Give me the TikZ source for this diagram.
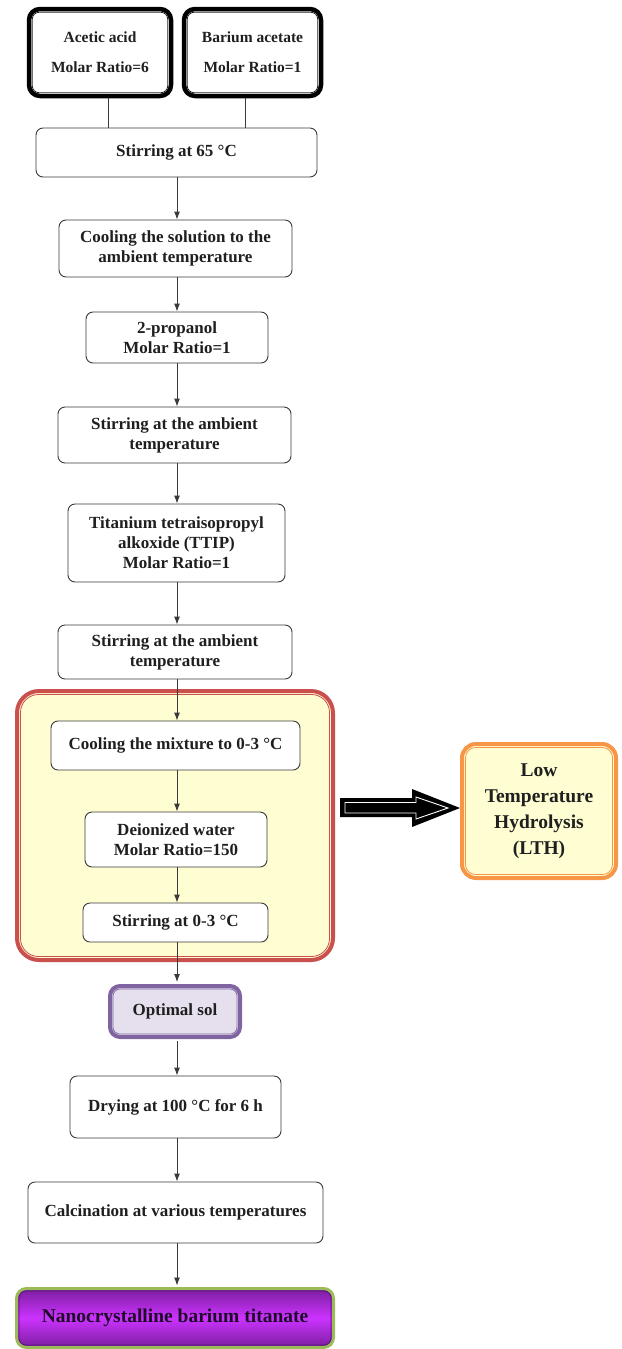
\documentclass[tikz,border=0pt]{standalone}
\usepackage{fontspec}
\setmainfont{Liberation Serif}
\usetikzlibrary{arrows.meta,calc}
\definecolor{linegray}{HTML}{3A3A3A}
\definecolor{zonefill}{HTML}{FFFDD2}
\definecolor{zonered}{HTML}{C9504D}
\definecolor{lthorange}{HTML}{F79646}
\definecolor{optpurple}{HTML}{8064A2}
\definecolor{optfill}{HTML}{E6E0EE}
\definecolor{nanogreen}{HTML}{9BBB59}
\definecolor{nanodark}{HTML}{7A1E9E}
\definecolor{nanolight}{HTML}{CC33FF}
\definecolor{nanotext}{HTML}{1E0A28}
\begin{document}
\begin{tikzpicture}[x=1pt,y=-1pt,
  txt/.style={font=\bfseries\fontsize{17}{20}\selectfont, text=black!88, align=center},
  box/.style={txt, draw=linegray, line width=0.9pt, rounded corners=7pt, fill=white, inner sep=0pt},
  sz/.style 2 args={minimum width=#1pt, minimum height=#2pt},
  arr/.style={draw=linegray, line width=0.9pt, -{Latex[length=8pt,width=6pt]}},
  plain/.style={draw=linegray, line width=0.9pt},
  inbox/.style={box, draw=black, line width=4.5pt, rounded corners=11pt, font=\bfseries\fontsize{15.5}{30}\selectfont},
  inline/.style={draw=black!85, line width=0.8pt, rounded corners=7pt}
]
\useasboundingbox (0,0) rectangle (621,1349);
\coordinate (axis) at (177,0);

% starting materials
\node[inbox, sz={142}{87}] (ac) at (100,52.5) {Acetic acid\\Molar Ratio=6};
\node[inbox, sz={137}{87}] (ba) at (252.5,52.5) {Barium acetate\\Molar Ratio=1};
\foreach \n in {ac,ba}{
  \draw[inline] ([xshift=5.5pt,yshift=-5.5pt]\n.north west) rectangle ([xshift=-5.5pt,yshift=5.5pt]\n.south east);
}

\node[box, sz={281}{49}] (s65) at (176.5,152.5) {Stirring at 65 °C};
\node[box, sz={233}{57}] (cool1) at (175.5,248.5) {Cooling the solution to the\\ambient temperature};
\node[box, sz={182}{51}] (prop) at (177,337.5) {2-propanol\\Molar Ratio=1};
\node[box, sz={233}{56}] (stirA) at (174.5,435) {Stirring at the ambient\\temperature};
\node[box, sz={217}{78}] (ttip) at (176.5,543) {Titanium tetraisopropyl\\alkoxide (TTIP)\\Molar Ratio=1};
\node[box, sz={234}{54}] (stirB) at (175,652) {Stirring at the ambient\\temperature};

% LTH zone
\node[draw=zonered, fill=zonefill, line width=4pt, rounded corners=22pt, sz={316}{269}] (zone) at (175,825.5) {};
\draw[draw=zonered, line width=0.8pt, rounded corners=18pt] ([xshift=5.5pt,yshift=-5.5pt]zone.north west) rectangle ([xshift=-5.5pt,yshift=5.5pt]zone.south east);

\node[box, sz={249}{49}] (coolM) at (175.5,745.5) {Cooling the mixture to 0-3 °C};
\node[box, sz={182}{55}] (dw) at (176,839.5) {Deionized water\\Molar Ratio=150};
\node[box, sz={185}{39}] (s03) at (175.5,922.5) {Stirring at 0-3 °C};

% LTH label
\node[txt, draw=lthorange, fill=zonefill, line width=4pt, rounded corners=14pt, sz={154}{134}, inner sep=0pt,
      font=\bfseries\fontsize{19.5}{26}\selectfont] (lth) at (539,811) {Low\\Temperature\\Hydrolysis\\(LTH)};
\draw[draw=lthorange, line width=0.8pt, rounded corners=10pt] ([xshift=5.5pt,yshift=-5.5pt]lth.north west) rectangle ([xshift=-5.5pt,yshift=5.5pt]lth.south east);

% block arrow from zone to LTH
\coordinate (ha) at ($(zone.east |- lth.west)+(5,-3)$);
\begin{scope}[shift={(ha)}]
  \fill[black] (0,-10) -- (72,-10) -- (72,-19) -- (120,0) -- (72,19) -- (72,9) -- (0,9) -- cycle;
  \draw[white, line width=0.9pt, line join=miter] (5,-5.5) -- (76,-5.5) -- (76,-11) -- (108,0) -- (76,11) -- (76,5) -- (5,5) -- cycle;
\end{scope}

% optimal sol
\node[box, draw=optpurple, fill=optfill, line width=4pt, rounded corners=10pt, sz={130}{51}] (opt) at (175,1011.5) {Optimal sol};
\draw[draw=optpurple, line width=0.7pt, rounded corners=7pt] ([xshift=5pt,yshift=-5pt]opt.north west) rectangle ([xshift=-5pt,yshift=5pt]opt.south east);

\node[box, sz={211}{62}] (dry) at (175.5,1107) {Drying at 100 °C for 6 h};
\node[box, sz={295}{61}] (calc) at (175.5,1212.5) {Calcination at various temperatures};

% final product
\node[txt, draw=nanogreen, line width=3pt, rounded corners=10pt, sz={317}{59}, inner sep=0pt,
      top color=nanodark, bottom color=nanodark, middle color=nanolight, text=nanotext,
      font=\bfseries\fontsize{19.5}{24}\selectfont] (nano) at (175,1318) {Nanocrystalline barium titanate};
\draw[draw=nanodark!70!black, line width=0.7pt, rounded corners=7pt] ([xshift=4pt,yshift=-4pt]nano.north west) rectangle ([xshift=-4pt,yshift=4pt]nano.south east);

% connectors
\draw[plain] ([xshift=8pt]ac.south) -- ([xshift=8pt]ac.south |- s65.north);
\draw[plain] ([xshift=-7.5pt]ba.south) -- ([xshift=-7.5pt]ba.south |- s65.north);
\draw[arr] (s65.south -| axis) -- (cool1.north -| axis);
\draw[arr] (cool1.south -| axis) -- (prop.north -| axis);
\draw[arr] (prop.south -| axis) -- (stirA.north -| axis);
\draw[arr] (stirA.south -| axis) -- (ttip.north -| axis);
\draw[arr] (ttip.south -| axis) -- (stirB.north -| axis);
\draw[arr] (stirB.south -| axis) -- (coolM.north -| axis);
\draw[arr] (coolM.south -| axis) -- (dw.north -| axis);
\draw[arr] (dw.south -| axis) -- (s03.north -| axis);
\draw[arr] (s03.south -| axis) -- ([yshift=2pt]opt.north -| axis);
\draw[arr] ([yshift=-2pt]opt.south -| axis) -- (dry.north -| axis);
\draw[arr] (dry.south -| axis) -- (calc.north -| axis);
\draw[arr] (calc.south -| axis) -- ([yshift=1.5pt]nano.north -| axis);
\end{tikzpicture}
\end{document}
